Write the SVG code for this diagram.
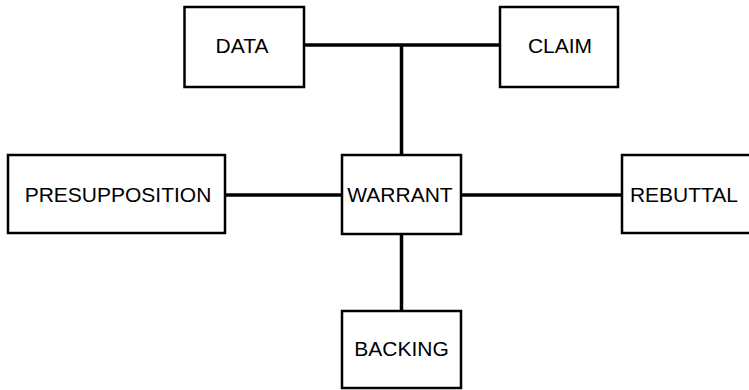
<svg xmlns="http://www.w3.org/2000/svg" width="749" height="390" viewBox="0 0 749 390">
<style>
.box{fill:#fff;stroke:#000;stroke-width:2.5}
.lbl{font-family:"Liberation Sans",Arial,sans-serif;font-size:21px;fill:#000;text-anchor:middle}
.con{stroke:#000;stroke-width:3.5;fill:none}
</style>
<rect width="749" height="390" fill="#fff"/>
<g id="connectors">
<line class="con" x1="304" y1="45" x2="500" y2="45"/>
<line class="con" x1="401.5" y1="45" x2="401.5" y2="155"/>
<line class="con" x1="225" y1="195" x2="342" y2="195"/>
<line class="con" x1="461" y1="195" x2="622" y2="195"/>
<line class="con" x1="401.5" y1="234" x2="401.5" y2="311"/>
</g>
<g id="data"><rect class="box" x="184.5" y="7" width="119.5" height="80"/><text class="lbl" x="242" y="53">DATA</text></g>
<g id="claim"><rect class="box" x="500" y="7" width="118" height="80"/><text class="lbl" x="560" y="53">CLAIM</text></g>
<g id="presupposition"><rect class="box" x="8" y="155" width="217" height="78"/><text class="lbl" x="118" y="201.5">PRESUPPOSITION</text></g>
<g id="warrant"><rect class="box" x="342" y="155" width="119" height="79"/><text class="lbl" x="400" y="201.5">WARRANT</text></g>
<g id="rebuttal"><rect class="box" x="622" y="155" width="140" height="78"/><text class="lbl" x="684" y="201.5">REBUTTAL</text></g>
<g id="backing"><rect class="box" x="342" y="311" width="119" height="77"/><text class="lbl" x="401.5" y="356">BACKING</text></g>
</svg>
